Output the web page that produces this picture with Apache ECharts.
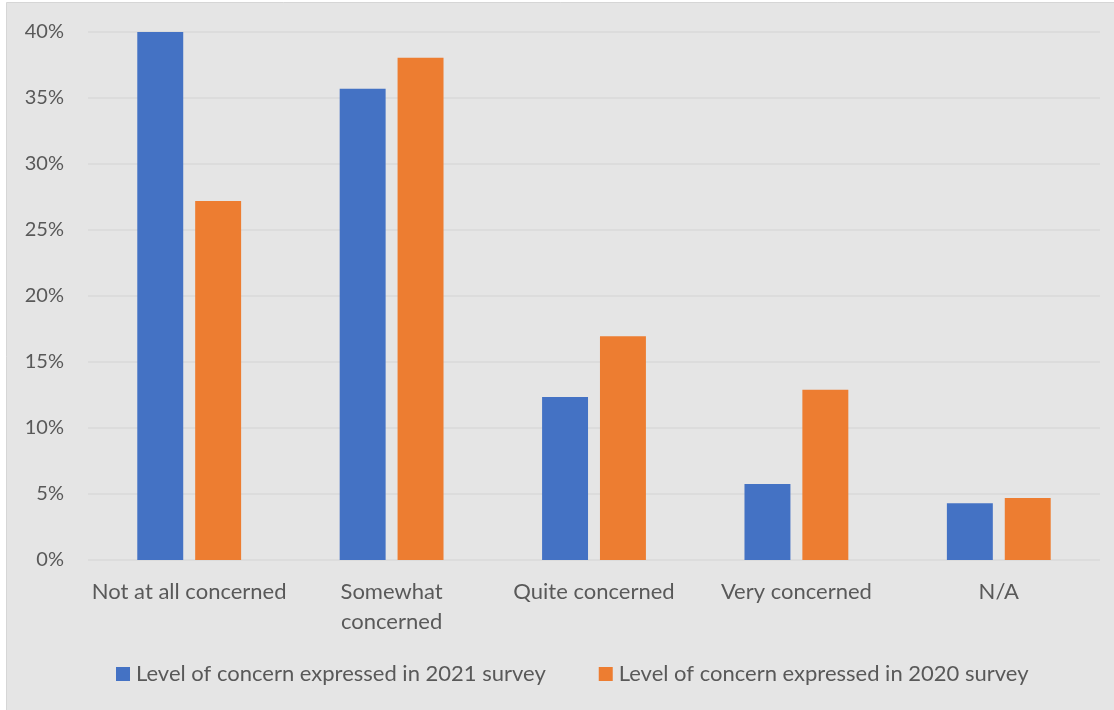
<!DOCTYPE html>
<html>
<head>
<meta charset="utf-8">
<style>
  html, body { margin: 0; padding: 0; background: #ffffff; }
  #chart { width: 1114px; height: 710px; }
</style>
<script src="https://cdn.jsdelivr.net/npm/echarts@6/dist/echarts.min.js"></script>
</head>
<body>
<div id="chart"></div>
<script>
const categories = ['Not at all concerned', 'Somewhat\nconcerned', 'Quite concerned', 'Very concerned', 'N/A'];
const series2021 = [40.0, 35.7, 12.35, 5.75, 4.3];
const series2020 = [27.2, 38.05, 16.95, 12.9, 4.7];
const seriesNames = ['Level of concern expressed in 2021 survey', 'Level of concern expressed in 2020 survey'];
const yTicks = [0, 5, 10, 15, 20, 25, 30, 35, 40];

const FONT = 'Lato';
const TEXT = '#595959';

const chart = echarts.init(document.getElementById('chart'), null, { renderer: 'canvas' });
chart.setOption({
  backgroundColor: 'transparent',
  animation: false,
  textStyle: { fontFamily: FONT },
  graphic: [{
    type: 'rect',
    z: -10,
    silent: true,
    shape: { x: 6.5, y: 2.5, width: 1120, height: 720 },
    style: { fill: '#e5e5e5', stroke: '#d6d6d6', lineWidth: 1 }
  }],
  grid: { left: 88, right: 14, top: 32, bottom: 150, containLabel: false },
  legend: {
    bottom: 20,
    left: 111,
    itemWidth: 14,
    itemHeight: 14,
    itemGap: 53,
    icon: 'rect',
    textStyle: { fontFamily: FONT, fontSize: 22, color: TEXT, padding: [0, 0, 0, 1] },
    data: seriesNames
  },
  xAxis: {
    type: 'category',
    data: categories,
    axisLine: { show: false },
    axisTick: { show: false },
    axisLabel: { color: TEXT, fontSize: 22, fontFamily: FONT, margin: 17, lineHeight: 30, interval: 0 }
  },
  yAxis: {
    type: 'value',
    min: yTicks[0],
    max: yTicks[yTicks.length - 1],
    interval: 5,
    axisLine: { show: false },
    axisTick: { show: false },
    splitLine: { lineStyle: { color: '#d9d9d9', width: 1.5 } },
    axisLabel: { color: TEXT, fontSize: 20, fontFamily: FONT, margin: 24, formatter: v => v + '%' }
  },
  series: [
    {
      name: seriesNames[0],
      type: 'bar',
      data: series2021,
      barWidth: '22.7%',
      barGap: '26%',
      itemStyle: { color: '#4472c4' }
    },
    {
      name: seriesNames[1],
      type: 'bar',
      data: series2020,
      barWidth: '22.7%',
      barGap: '26%',
      itemStyle: { color: '#ed7d31' }
    }
  ]
});
</script>
</body>
</html>
